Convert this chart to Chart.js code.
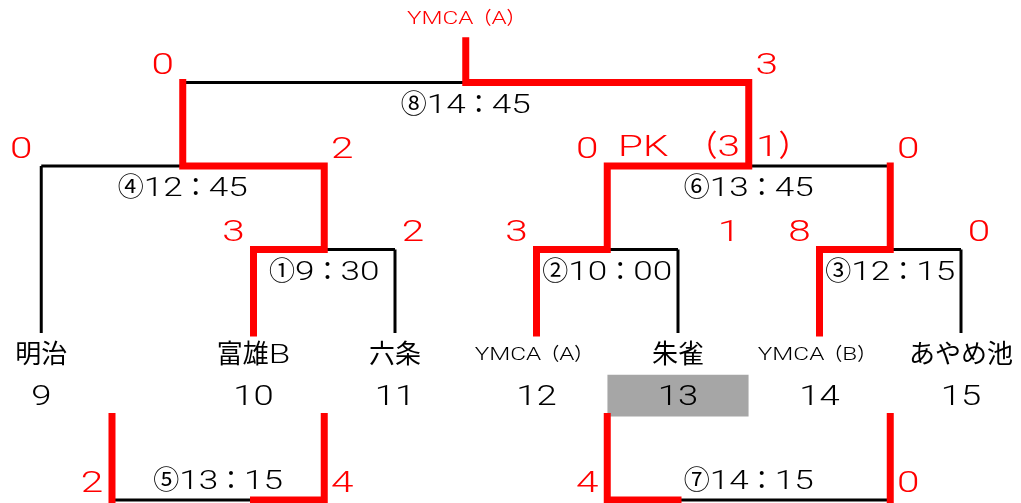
<!DOCTYPE html>
<html>
<head>
<meta charset="utf-8">
<script src="https://cdn.jsdelivr.net/npm/chart.js@4.4.1/dist/chart.umd.min.js"></script>
<style>
  html, body { margin: 0; padding: 0; background: #fff; }
  #wrap { width: 1021px; height: 503px; }
</style>
</head>
<body>
<div id="wrap"><canvas id="bracket" width="1021" height="503"></canvas></div>
<script>
// teams, their draw numbers and the slot each one sits in
const teams = ['明治', '富雄B', '六条', 'YMCA（A）', '朱雀', 'YMCA（B）', 'あやめ池'];
const seeds = ['9', '10', '11', '12', '13', '14', '15'];
const slots = [8.5, 10, 11, 12, 13, 14, 15];

// main bracket: children are 't<team>' or 'm<match>'
const matchNo    = ['①', '②', '③', '④', '⑥', '⑧'];
const matchTime  = ['9：30', '10：00', '12：15', '12：45', '13：45', '14：45'];
const matchLeft  = ['t1', 't3', 't5', 't0', 'm1', 'm3'];
const matchRight = ['t2', 't4', 't6', 'm0', 'm2', 'm4'];
const matchLevel = [1, 1, 1, 2, 2, 3];
const scoreLeft  = ['3', '3', '8', '0', '0', '0'];
const scoreRight = ['2', '1', '0', '2', '0', '3'];
const winnerSide = ['L', 'L', 'L', 'R', 'L', 'R'];
const pkNote = ['PK', '（3', '1）'];
const champion = 'YMCA（A）';

// lower matches
const lowNo     = ['⑤', '⑦'];
const lowTime   = ['13：15', '14：15'];
const lowLeft   = [9, 12.5];
const lowRight  = [10.5, 14.5];
const lowScoreL = ['2', '4'];
const lowScoreR = ['4', '0'];
const lowWinner = ['R', 'L'];

const RED = '#ff0000';
const BLACK = '#000000';

function childX(ref) {
  const i = +ref.slice(1);
  if (ref[0] === 't') return slots[i];
  return (childX(matchLeft[i]) + childX(matchRight[i])) / 2;
}
function winnerTeam(ref) {
  const i = +ref.slice(1);
  if (ref[0] === 't') return i;
  return winnerTeam(winnerSide[i] === 'L' ? matchLeft[i] : matchRight[i]);
}
function containsTeam(ref, t) {
  const i = +ref.slice(1);
  if (ref[0] === 't') return i === t;
  return containsTeam(matchLeft[i], t) || containsTeam(matchRight[i], t);
}

const blackSegs = [];
const redRoutes = [];

// black: horizontals and verticals of teams that never won
matchNo.forEach((_, i) => {
  const y = matchLevel[i];
  blackSegs.push([{x: childX(matchLeft[i]), y}, {x: childX(matchRight[i]), y}]);
  const loser = winnerSide[i] === 'L' ? matchRight[i] : matchLeft[i];
  if (loser[0] === 't') {
    blackSegs.push([{x: childX(loser), y: 0}, {x: childX(loser), y}]);
  }
});

// red: route of each team as far as it went
const byLevel = matchNo.map((_, i) => i).sort((a, b) => matchLevel[a] - matchLevel[b]);
teams.forEach((_, t) => {
  const route = [{x: slots[t], y: 0}];
  let won = 0;
  for (const i of byLevel) {
    const inLeft = containsTeam(matchLeft[i], t);
    if (!inLeft && !containsTeam(matchRight[i], t)) continue;
    const side = inLeft ? matchLeft[i] : matchRight[i];
    const y = matchLevel[i];
    route.push({x: childX(side), y});
    if (winnerTeam('m' + i) !== t) break;
    const mid = (childX(matchLeft[i]) + childX(matchRight[i])) / 2;
    route.push({x: mid, y});
    won++;
    if (i === matchNo.length - 1) route.push({x: mid, y: y + 0.5});
  }
  if (won > 0) redRoutes.push(route);
});

lowNo.forEach((_, i) => {
  const l = lowLeft[i], r = lowRight[i];
  blackSegs.push([{x: l, y: -2}, {x: r, y: -2}]);
  if (lowWinner[i] === 'L') {
    redRoutes.push([{x: l, y: -1}, {x: l, y: -2}, {x: l + 0.5, y: -2}]);
    redRoutes.push([{x: r, y: -1}, {x: r, y: -2}]);
  } else {
    redRoutes.push([{x: r, y: -1}, {x: r, y: -2}, {x: r - 0.5, y: -2}]);
    redRoutes.push([{x: l, y: -1}, {x: l, y: -2}]);
  }
});

const datasets = [];
redRoutes.forEach(d => datasets.push({data: d, showLine: true, borderColor: RED, borderWidth: 7,
  pointRadius: 0, borderJoinStyle: 'miter', borderCapStyle: 'square', order: 1, clip: false}));
blackSegs.forEach(d => datasets.push({data: d, showLine: true, borderColor: BLACK, borderWidth: 3,
  pointRadius: 0, order: 2, clip: false}));
// shaded cell under seed 13
datasets.push({data: [{x: 12.5, y: -0.5}, {x: 13.5, y: -0.5}], showLine: true, borderWidth: 0,
  pointRadius: 0, backgroundColor: '#a6a6a6', fill: {value: -1}, order: 3});

const LATIN = "300 {s}px Roboto, 'Liberation Sans', sans-serif";
const CJK = "{s}px 'Noto Sans CJK JP', sans-serif";
const WIDE = 1.35; // latin letters and digits are drawn wide, like the original

// draw a string in runs: latin runs stretched, CJK runs as is
function putText(ctx, s, x, y, size, color, align) {
  const runs = s.match(/[\x00-\x7f]+|[^\x00-\x7f]+/g);
  ctx.save();
  ctx.fillStyle = color;
  ctx.textBaseline = 'alphabetic';
  ctx.textAlign = 'left';
  const isLatin = r => r.charCodeAt(0) < 128;
  const setFont = r => { ctx.font = (isLatin(r) ? LATIN : CJK).replace('{s}', size); };
  const widths = runs.map(r => {
    setFont(r);
    return ctx.measureText(r).width * (isLatin(r) ? WIDE : 1);
  });
  const total = widths.reduce((a, b) => a + b, 0);
  let cur = align === 'left' ? x : align === 'right' ? x - total : x - total / 2;
  const base = y + size * 0.36;
  runs.forEach((r, k) => {
    setFont(r);
    ctx.save();
    ctx.translate(cur, base);
    if (isLatin(r)) ctx.scale(WIDE, 1);
    ctx.fillText(r, 0, 0);
    ctx.restore();
    cur += widths[k];
  });
  ctx.restore();
}

const textPlugin = {
  id: 'bracketText',
  afterDatasetsDraw(chart) {
    const {ctx, scales} = chart;
    const X = v => scales.x.getPixelForValue(v);
    const Y = v => scales.y.getPixelForValue(v);
    // team names and draw numbers
    teams.forEach((t, i) => {
      const small = t.startsWith('YMCA');
      putText(ctx, t, X(slots[i]) - (small ? 3 : 0), Y(0) + 21, small ? 18 : 26, BLACK);
      putText(ctx, seeds[i], X(slots[i]), Y(0) + 62, 27, BLACK);
    });
    // main matches
    matchNo.forEach((n, i) => {
      const xl = X(childX(matchLeft[i])), xr = X(childX(matchRight[i]));
      const y = Y(matchLevel[i]);
      putText(ctx, n + matchTime[i], (xl + xr) / 2, y + 21, 26, BLACK);
      putText(ctx, scoreLeft[i], xl - 20, y - 19, 30, RED);
      putText(ctx, scoreRight[i], xr + (i === 1 ? 51 : 18), y - 19, 30, RED);
    });
    // penalty note on match 6
    const y6 = Y(matchLevel[4]) - 21;
    putText(ctx, pkNote[0], 618, y6, 30, RED, 'left');
    putText(ctx, pkNote[1], 740, y6, 30, RED, 'right');
    putText(ctx, pkNote[2], 756, y6, 30, RED, 'left');
    // champion
    putText(ctx, champion, X(11.5), Y(3.5) - 23, 18, RED);
    // lower matches
    lowNo.forEach((n, i) => {
      const xl = X(lowLeft[i]), xr = X(lowRight[i]);
      const y = Y(-2);
      putText(ctx, n + lowTime[i], (xl + xr) / 2, y - 20, 26, BLACK);
      putText(ctx, lowScoreL[i], xl - 20, y - 19, 30, RED);
      putText(ctx, lowScoreR[i], xr + 18, y - 19, 30, RED);
    });
  }
};

new Chart(document.getElementById('bracket'), {
  type: 'scatter',
  data: {datasets},
  options: {
    responsive: false,
    animation: false,
    layout: {padding: 0},
    plugins: {legend: {display: false}, tooltip: {enabled: false}},
    scales: {
      x: {type: 'linear', min: 8.2085, max: 15.424, display: false},
      y: {type: 'linear', min: -2.036, max: 3.988, display: false}
    }
  },
  plugins: [textPlugin]
});
</script>
</body>
</html>
